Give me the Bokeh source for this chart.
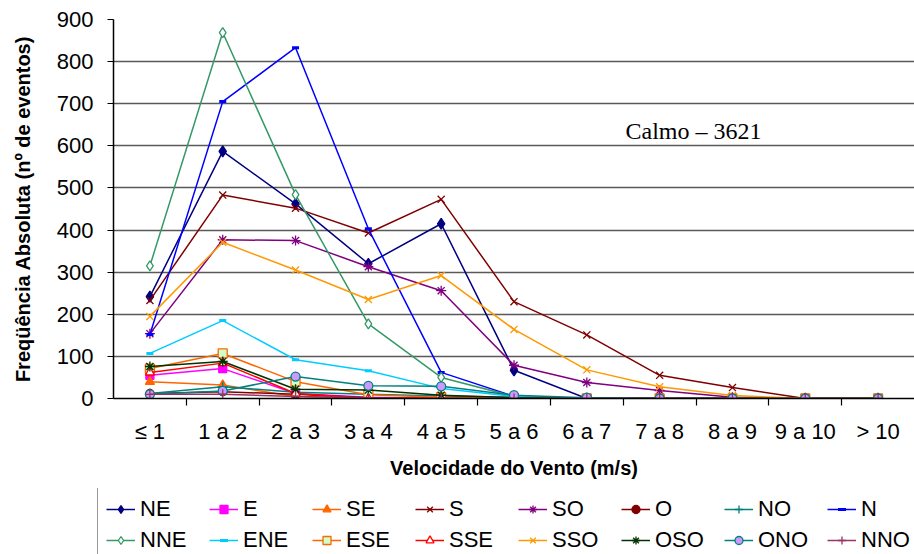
from bokeh.plotting import figure
from bokeh.layouts import column
from bokeh.models import (FactorRange, Range1d, CategoricalAxis,
                          SingleIntervalTicker, Legend, LegendItem, Label)
from bokeh.embed import file_html
from bokeh.resources import INLINE

categories = ["≤ 1", "1 a 2", "2 a 3", "3 a 4", "4 a 5", "5 a 6",
              "6 a 7", "7 a 8", "8 a 9", "9 a 10", "> 10"]

NE = [242, 587, 462, 320, 415, 67, 0, 0, 0, 0, 0]
E = [55, 71, 12, 3, 0, 0, 0, 0, 0, 0, 0]
SE = [40, 32, 5, 0, 0, 0, 0, 0, 0, 0, 0]
S = [233, 483, 452, 393, 473, 230, 151, 55, 26, 0, 0]
SO = [154, 377, 375, 313, 256, 79, 38, 19, 3, 0, 0]
O = [12, 16, 10, 2, 0, 0, 0, 0, 0, 0, 0]
NO = [12, 28, 15, 10, 6, 3, 0, 0, 0, 0, 0]
N = [152, 705, 833, 403, 62, 5, 0, 0, 0, 0, 0]
NNE = [315, 869, 484, 177, 50, 5, 0, 0, 0, 0, 0]
ENE = [107, 185, 92, 66, 24, 5, 0, 0, 0, 0, 0]
ESE = [71, 107, 40, 9, 3, 0, 0, 0, 0, 0, 0]
SSE = [62, 84, 12, 0, 0, 0, 0, 0, 0, 0, 0]
SSO = [195, 371, 305, 235, 292, 164, 68, 28, 7, 0, 0]
OSO = [76, 88, 22, 20, 8, 2, 0, 0, 0, 0, 0]
ONO = [10, 18, 52, 30, 29, 8, 2, 0, 0, 0, 0]
NNO = [10, 10, 5, 2, 0, 0, 0, 0, 0, 0, 0]

series = [("NE", NE), ("E", E), ("SE", SE), ("S", S), ("SO", SO), ("O", O),
          ("NO", NO), ("N", N), ("NNE", NNE), ("ENE", ENE), ("ESE", ESE),
          ("SSE", SSE), ("SSO", SSO), ("OSO", OSO), ("ONO", ONO), ("NNO", NNO)]

styles = {
    "NE": dict(color="#000080", marker="diamond", fill="#000080", size=11),
    "E": dict(color="#FF00FF", marker="square", fill="#FF00FF", size=8),
    "SE": dict(color="#FF6600", marker="triangle", fill="#FF6600", size=9),
    "S": dict(color="#800000", marker="x", fill=None, size=10),
    "SO": dict(color="#800080", marker="asterisk", fill=None, size=10),
    "O": dict(color="#800000", marker="circle", fill="#800000", size=8),
    "NO": dict(color="#008080", marker="cross", fill=None, size=10),
    "N": dict(color="#0000FF", marker="dash", fill=None, size=7),
    "NNE": dict(color="#339966", marker="diamond", fill="white", size=10),
    "ENE": dict(color="#00CCFF", marker="dash", fill=None, size=7),
    "ESE": dict(color="#FF6600", marker="square", fill="#CCFFCC", size=9),
    "SSE": dict(color="#FF0000", marker="triangle", fill="white", size=9),
    "SSO": dict(color="#FF9900", marker="x", fill=None, size=10),
    "OSO": dict(color="#003300", marker="asterisk", fill=None, size=10),
    "ONO": dict(color="#008080", marker="circle", fill="#CC99FF", size=9),
    "NNO": dict(color="#993366", marker="cross", fill=None, size=10),
}

p = figure(width=914, height=488, x_range=FactorRange(*categories, range_padding=0),
           y_range=Range1d(0, 900), output_backend="svg", toolbar_location=None,
           x_axis_location=None, min_border_left=113, min_border_right=0,
           min_border_top=19, min_border_bottom=90)
p.frame_align = False
p.outline_line_color = None
p.background_fill_color = "white"
p.border_fill_color = "white"

for g in p.xgrid:
    g.grid_line_color = None
p.ygrid.grid_line_color = "#5a5a5a"
p.ygrid.grid_line_width = 1.3

yax = p.yaxis[0]
yax.ticker = SingleIntervalTicker(interval=100)
yax.major_tick_out = 6
yax.major_tick_in = 0
yax.minor_tick_out = 0
yax.minor_tick_in = 0
yax.axis_line_color = "black"
yax.axis_line_width = 1.5
yax.major_tick_line_width = 1.2
yax.major_label_text_font = "Liberation Sans"
yax.major_label_text_font_size = "22px"
yax.major_label_text_color = "black"
yax.major_label_standoff = 14
yax.axis_label = "Freqüência Absoluta (nº de eventos)"
yax.axis_label_text_font = "Liberation Sans"
yax.axis_label_text_font_style = "bold"
yax.axis_label_text_font_size = "20px"
yax.axis_label_text_color = "black"
yax.axis_label_standoff = 20

# boundary tick marks between the categories: a second categorical range whose
# factor centres fall on the category boundaries
n_bounds = len(categories) - 1
bound_factors = [" " * (i + 1) for i in range(n_bounds)]
p.extra_x_ranges = {"bounds": FactorRange(*bound_factors, range_padding=1.0 / n_bounds)}
tick_axis = CategoricalAxis(x_range_name="bounds",
                            major_tick_out=7, major_tick_in=0,
                            major_label_text_font_size="1px", major_label_text_color=None,
                            major_label_standoff=0, axis_line_color="black", axis_line_width=1.5,
                            major_tick_line_width=1.2)
p.add_layout(tick_axis, "below")

cat_axis = CategoricalAxis(major_tick_out=0, major_tick_in=0, axis_line_color=None,
                           major_label_text_font="Liberation Sans",
                           major_label_text_font_size="22px",
                           major_label_text_color="black",
                           major_label_standoff=13,
                           axis_label="Velocidade do Vento (m/s)",
                           axis_label_text_font="Liberation Sans",
                           axis_label_text_font_style="bold",
                           axis_label_text_font_size="20px",
                           axis_label_text_color="black",
                           axis_label_standoff=10)
p.add_layout(cat_axis, "below")


def draw(fig, name, vals):
    st = styles[name]
    r1 = fig.line(categories, vals, line_color=st["color"], line_width=1.5)
    lw = 3 if st["marker"] == "dash" else 1.3
    r2 = fig.scatter(categories, vals, marker=st["marker"], size=st["size"],
                     line_color=st["color"], fill_color=st["fill"], line_width=lw)
    return r1, r2


for name, vals in series:
    draw(p, name, vals)

calm = Label(x=512, y=635, x_units="screen", y_units="data", text="Calmo – 3621",
             text_font="Liberation Serif", text_font_size="24px",
             text_baseline="alphabetic", text_color="black")
p.add_layout(calm)

# legend strip below the chart: same series drawn into an out-of-view range,
# only the legend swatches are visible
pl = figure(width=914, height=66, x_range=FactorRange(*categories, range_padding=0),
            y_range=Range1d(5000, 6000),
            output_backend="svg", toolbar_location=None,
            x_axis_location=None, y_axis_location=None, min_border=0)
pl.frame_align = False
pl.outline_line_color = None
pl.grid.visible = False
items = []
for name, vals in series:
    r1, r2 = draw(pl, name, vals)
    items.append(LegendItem(label=name, renderers=[r1, r2]))

legend = Legend(items=items, location=(97, -8), orientation="horizontal", ncols=8,
                glyph_width=29, glyph_height=20, label_standoff=5, label_width=64,
                spacing=5, padding=8, margin=0,
                label_text_font="Liberation Sans", label_text_font_size="22px",
                label_text_color="black",
                border_line_color="#333333", border_line_width=1.2,
                background_fill_color="white", background_fill_alpha=1)
pl.add_layout(legend, "center")

layout = column(p, pl, spacing=0)
open("out.html", "w").write(file_html(layout, INLINE))
